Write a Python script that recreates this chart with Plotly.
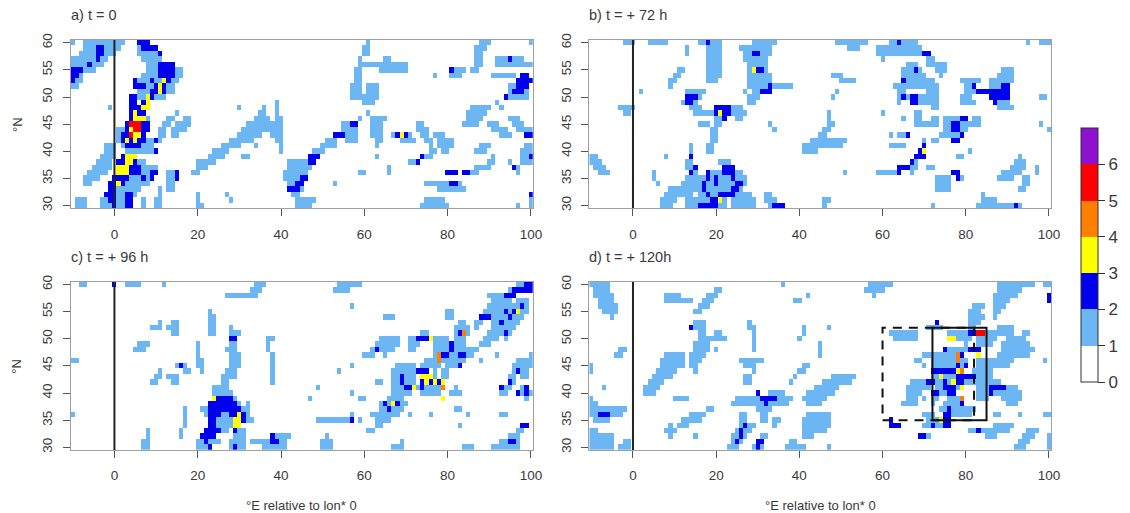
import plotly.graph_objects as go

# Cell classes per latitude row: "from:to=class" in degrees lon relative to lon*, class 1 when no "=".
# Later tokens overwrite earlier ones.
lons = list(range(-10, 101))
lats = list(range(30, 61))
tick_x = [0, 20, 40, 60, 80, 100]
tick_y = [30, 35, 40, 45, 50, 55, 60]
bar_ticks = [0, 1, 2, 3, 4, 5, 6]
titles = ["a) t = 0", "b) t = + 72 h", "c) t = + 96 h", "d) t = + 120h"]
xlabel = "°E relative to lon* 0"
ylabel = "°N"
class_colors = ["#FFFFFF", "#6DB6F4", "#0000EE", "#FFFF00", "#FF7F00", "#FF0000", "#9010D0"]
box_solid = (72, 85, 35, 52)
box_dashed = (60, 82, 35, 52)

panel_a = {
60: "-10 -7:2 6:8=2 61 88:90 100",
59: "-7:1 -4:-3=2 7:10=2 6 60:61 87:89",
58: "-8:0 -4:-3=2 6:10 11=2 60:61 87:88",
57: "-10:-2 -4=2 7:11 59 65:66 87:88 92:98 95=2",
56: "-10:-3 -6=2 8:10 11:14=2 59:70 87:88 92:100",
55: "-10:-5 -10:-8=2 8:10 11:14=2 15:16 58:59 64:70 81=2 82:84 86:87",
54: "-10:-8 -10:-9=2 7:10 11:14=2 15:16 58:59 77 81:83 91:96 98:99=2",
53: "-10:-8 -10=2 5:9 5=2 9=2 10:11 12:13=2 12=3 14:15 58:59 97:100=2",
52: "-10:-9 5:7=2 8:9 10=2 11=3 12=2 13:14 57:59 61:63 95:96 97:99=2",
51: "6:8 9:10=2 11=3 12=2 13:14 57:59 61:63 95 96:98=2 99",
50: "4:5=2 6:7 8=3 9=2 10:12 57:63 95:99 94=2",
49: "39 4:5=2 7=2 8=3 60:62 92",
48: "-1 4:6=2 7:8=3 30 36 39 86:90 93",
47: "4=2 5=3 6:7=2 15 35:36 39 61 85:89",
46: "4=2 5:7=3 8 13:14 17:18 34:37 39:40 59 62:65 85:88 95:97",
45: "3=2 4:6=5 7:8=2 12:13 15:18 32:40 55:56 57:58=2 62:64 73:74 84:87 90:92 96:98",
44: "1:2 3=2 4=3 5:6=5 7:8=2 11:12 14:17 31:40 55:58 62:64 73:75 91:94 97:100",
43: "1 2:3=2 4=5 5:6=3 7=2 11:12 14:15 30:35 38:40 53:55=2 56:58 62:64 67 68=2 69=3 70=2 71 74:75 77:79 93:95 99:100=2",
42: "1 2=2 3=3 4=2 5=3 6:7=2 8:9 10=2 11 28:33 39:40 51:53 56:58 63:64 69:72 75:76 78:81",
41: "-2:0 2 3:6=2 7:9 26:30 34 40 50:53 63 76 78:81 88:90 99:100",
40: "-2:0 3:6 7:9 10=2 24:27 40 48:50 76:77 79:80 87:89 98:100",
39: "-3:0 2=2 3:5=3 23:26 31:32 47:49=2 63 74=2 75:76 91 98:99 100=2",
38: "-4:-1 1:2=2 3:4=3 5=2 6:7 20:24 42:46 47:48=2 71:72 73=2 90:91 95 98:100",
37: "-5:-1 1:3=3 4:6=2 7:10 20:22 42:47 66 87:90 96=2 97",
36: "-6:-2 1:3=3 4:6=2 7:8 9:10=2 13:14 15=2 19:20 41:46 59:60 66 80:82=2 84:85=2 86:87 97",
35: "-7:-4 0:3=2 4:6 7=2 8 9=2 13:14 15=2 41:44 45:46=2",
34: "-7:-6 -1:0=2 1=3 2=2 3:8 13:14 42:43 44:45=2 53 75:78 79:80 81:82=2 83",
33: "-1:0=2 1:6 11 13:14 42:44=2 45 78:84",
32: "-2:0=2 1:2 3:4=2 5 11 20 27 43:44 100=2",
31: "-9:-7 -3:-2 -1:0=2 1:2 3:4=2 7 10:11 20 28 44:48 75:79 100",
30: "-9:-7 -3:-1 0=2 1:2 3:4=2 7 10:11 20:21 44:47 74:80 97 100",
}

panel_b = {
60: "-2:0 4:8 16:21 18=2 29:34 49:56 62:68 64=2 95 98:100",
59: "13 18:21 26:33 52:54 59:69",
58: "13 18:21 27:33 29:30=2 59:63 64:69 70:71=2",
57: "18:21 27:32 60 71:72",
56: "18:21 28:32 66:68 71:75",
55: "11:12 18:21 28 29=3 30:31=2 32 65:69 68=2 73:75 89:91",
54: "10:11 18:21 28:33 48:50 65:70 74 88:91",
53: "9:10 18:20 28:33 50:53 65=2 66:72 79:83 86:87 88:91",
52: "9 28:32 33=2 34:38 63:64 65:73 80:81 82=2 86:88 89:90=2",
51: "2 13:17 27 29:30 31:33=2 49 64:65 71:73 80:82 83:90=2",
50: "13:15=2 16 28:30 48 64 65=2 66 67:68=2 69:73 79:81 86:90=2 98:99",
49: "12 13:14=2 15 28:29 64 67:68=2 69:73 79:82 87=2 88:90",
48: "-3:0 14:16 20:23=2 24:26 72:73 88:91",
47: "-2:-1 15:16 17:19 20=2 21=3 22:23=2 24:27 47 60 68:69",
46: "20:21 22=2 25:26 47 65 68:69 72:73 75:78 79:80=2 82:83",
45: "16:18 20:21 33 47:48 68:73 75:76 77:78=2 79:83 98",
44: "19:20 34 46:47 75:76 77:78=2 79:80 100",
43: "19:20 45:46 62 64:65 66=2 74:76 77:78 79=2",
42: "19:20 43:51 70 72:73 77:78=2",
41: "14 18:19 41:50 62:65 70=2",
40: "14 18:19 41:44 69=2 70=3 81",
39: "-10:-9 8 14=2 68:70=2 78:79 93",
38: "-10:-8 13:14 21:23 67=2 68 92:94",
37: "-9:-7 13:14 15=2 22:24=2 64:66=2 67 68 71:72 91:94 97",
36: "-8:-6 5 14=2 15 18=2 19:21 22:24=2 25:26 51 59:63 64=2 67 77:78=2 89:93 97",
35: "5 13:17 18=2 19 20=2 21:23 24=2 25:27 73:76 78=2 79 88:91 94:95",
34: "6 12:16 17=2 18:19 20=2 21:24 25:26=2 27 73:76 94:95",
33: "9:16 17=2 18:23 24:25=2 26 73:76 93:94",
32: "8:14 16:17 18=2 19:20 21:24=2 25:28 32:33 84",
31: "7:10 13:18 19:20=2 21=3 22 24:29 32:34 46:47 84:87",
30: "7:9 13:15 16:20=2 21:22 24:29 33 34:36=2 46 72 83:91 92=2 93",
}

panel_c = {
60: "-8:-7 0=2 3:6 12 34:36 54:59 97:98 99:100=2",
59: "33:35 53:56 95 96:100=2",
58: "27:32 32:34 90:93 94:96=2",
57: "91:95 97:99",
56: "57 90:96 97 98=2 99",
55: "23 80:81 89:93 94=2 95 96=2 97=3 98:99",
54: "23:24 65:67 80:81 88:90=2 91:94 95=2 96:98",
53: "11 14:15 23:24 83:84 87:88 91:92 93=2 94:97",
52: "9:11 13:15 23:24 28 82:85 87 91:96",
51: "14:15 23:24 28:30 74:75 82 83=2 84=4 85 90:93 94=2 95",
50: "28:29=2 37:38 64:68 71:72 73:74=2 75=2 76=3 77:80 82:84 89:92 94",
49: "6:8 20 28:29 37 63:68 71:73 77:80 81=2 82:84 88:90",
48: "5:7 20 27:29 37 62:67 63=2 71:72 77:80 81=2 82:87",
47: "20 28:30 38 60:62 65 77 78=4 79:80=2 81:82 83:84=2 85:86 92 100",
46: "-10:-9 20:21 28:30 38 75:77 78=4 79:80 81:84 88 97:100",
45: "15 16=2 17 20:21 28:30 38 57 68:72 74:78 80:82 83=2 96:100",
44: "11 17:18 21 27:29 38 54 67:72 73:75=2 77 79:80 96 97=2 98:99",
43: "10:11 13:15 26:28 29 38 67:68 69=2 70:72 74:76=3 77 79:80 95:96 98:99",
42: "9:10 14:15 26:27 38 63:64 67:68 69=2 70:72 74=2 75=3 76=2 77=3 78=2 79=3 95=2 96",
41: "24:27 49 67:69 70:71=2 72=3 73 74=2 75:78 79=4 82 93=2 94:95 98 99=2",
40: "24:28 57 67:71 74:78 81:83 93:94 97=2 98 99=2 100",
39: "24=3 25:28=2 29 47 59:60 66:69 79=3 99",
38: "23:29=2 30 32 64 65=2 66 67=3 68=2 69:70",
37: "17 21:22 23:30=2 31:32 64:65 66=2 67:69 82:83",
36: "-10 17 22 23:25=2 26:27 28:29=2 30=3 31=2 32 62:68 71 76 85 93:94 57",
35: "17 23:24=2 25:28 29:30=3 31=2 32:33 49:56 57=2 59 63:66",
34: "17 23:24=2 25:28 29:30=3 63:64 83 98:99=2",
33: "8 16 22:25=2 26:27 29=2 30:31 61:62 97:98",
32: "8 16 21:24=2 29:31 38=2 39:42 51 95:97",
31: "7:8 20:21 22=2 23:25 28:31 33:37 38:39=2 40:41 50:52 69 93:94 95:96=2 97",
30: "7:8 20:22 23=2 28 29=2 30:31 36:41 50:52 67:69 84:86 91:97",
}

panel_d = {
60: "-10:-6 36 57:62 88:96 99:100",
59: "-9:-6 20:21 56:60 88:93",
58: "-9:-5 8:11 18:20 42 58 87:92 100=2",
57: "-8:-5 8:14 17:19 39:40 87:90 100=2",
56: "-8:-4 16:18 82:84 87:89",
55: "-7:-4 15:16 81:83 87:88",
54: "-5 81:84 87",
53: "15:17 28 73=2 81:83",
52: "14=2 15:17 28:29 41 47 71:74 81:82 88:91",
51: "16:17 20:21 29 41 62:68 76:80 81:82=2 83:84=5 85:91 94:95",
50: "16:22 29 40 63:68 76:77=3 78:81 83:87 90:94",
49: "15:18 29 45 80 83:86 89:95",
48: "-3:-2 15:18 20 29 45 75=2 76:80 81:83=2 89:96",
47: "-4:-3 8:12 14:17 45 70:75 76:77 78=4 79=2 83=3 88:95",
46: "7:12 14:16 26:31 68:69 72:77 78=4 79:80 83:85 86:91 99",
45: "-10 7:12 14:15 27:29 41:42 70 72:77 78=2 79 80=2 83:85 86:90",
44: "-10 6:10 15 29 40:41 72:77=2 78=3 79=4 82:86",
43: "5:9 27:28 39 48:53 72:73 74=3 75:77 78:82=2 83:86",
42: "4:7 27:28 38 46:52 67:70 71:72=2 73:74 75=2 76 77=3 78:79=2 80:82 83:85 86:88",
41: "-7 3:6 44:49 66:71 73 74 75:77=2 78 79=3 83:85 86:89=2 90:92",
40: "3:5 30=2 33:36 42:48 66:69 72:73=2 74:75 76:77=2 83:84 85 86=2 87:93",
39: "-10 10:13 25:30 31:34=2 35:38 41:46 66:68 70 72:73 76:78 79=4 83:85 89:93",
38: "-10:-9 24:31 32=2 33:35 36:37 42:45 65:68 72 75:78 79=2 90:92",
37: "-10:-2 18:19 30:33 74:82 76=2",
36: "-10:-9 -8:-6=2 -5:-3 14:17 26:27 31:32 42:47 70:72 75:76=2 77:81 87:88 93 99:100",
35: "-9:-6 12:16 26:27 31:32 34:35 41:47 62=2 71:73 74=3 75:76=2",
34: "9 11:13 26:29 27=2 34 41:47 62:64=2 70:71 72=2 73:74 75:76=2 87:91",
33: "-10:-9 8:10 25:28 26=2 41:46 81:82 83=2 84:90 95:97",
32: "-10:-5 9 15 24:27 26=2 31:32 41:43 69:70=2 71 85:87 94:96 100",
31: "-10:-5 -2:-1 24:26 25=2 30:31=2 38:39 93:95 100",
30: "-10:-5 -3:-1 23:25 29 30=2 31 37:41 47 92:94 100",
}


def to_grid(rows):
    grid = [[0.0] * len(lons) for _ in lats]
    for lat, spec in rows.items():
        for tok in spec.split():
            span, _, cls = tok.partition("=")
            if ":" in span[1:]:
                cut = span.index(":", 1)
                a, b = int(span[:cut]), int(span[cut + 1:])
            else:
                a = b = int(span)
            for lon in range(a, b + 1):
                grid[lat - 30][lon + 10] = int(cls or 1) + 0.5
    return grid


panels = [panel_a, panel_b, panel_c, panel_d]
W, H = 1130, 513
px_x = [(70.7, 533), (589.3, 1051)]
px_y = [(40, 208.3), (281.7, 450)]

fig = go.Figure()
layout = {}
shapes = []
annotations = []
font = "Liberation Sans, Arial, sans-serif"
ink = "#3a3a3a"
for i, rows in enumerate(panels):
    col, row = i % 2, i // 2
    sx = "" if i == 0 else str(i + 1)
    fig.add_trace(go.Heatmap(x=lons, y=lats, z=to_grid(rows), coloraxis="coloraxis",
                             xaxis="x" + sx, yaxis="y" + sx, hoverongaps=False))
    layout["xaxis" + sx] = dict(
        domain=[px_x[col][0] / W, px_x[col][1] / W], range=[-10.5, 100.5], anchor="y" + sx,
        tickvals=tick_x, ticks="outside", ticklen=7, tickcolor="#555", showgrid=False, zeroline=False,
        showline=True, mirror=True, linecolor="#a0a0a0", linewidth=1, ticklabelstandoff=6,
        tickfont=dict(family=font, size=13.5, color=ink))
    layout["yaxis" + sx] = dict(
        domain=[1 - px_y[row][1] / H, 1 - px_y[row][0] / H], range=[29.5, 60.5], anchor="x" + sx,
        tickvals=tick_y, ticks="outside", ticklen=7, tickcolor="#555", showgrid=False, zeroline=False,
        showline=True, mirror=True, linecolor="#a0a0a0", linewidth=1, tickangle=-90, ticklabelstandoff=5,
        tickfont=dict(family=font, size=13.5, color=ink))
    shapes.append(dict(type="line", xref="x" + sx, yref="y" + sx, x0=0, x1=0, y0=29.5, y1=60.5,
                       line=dict(color="#222222", width=2)))
    annotations.append(dict(text=titles[i], xref="paper", yref="paper", showarrow=False,
                            x=(px_x[col][0] - 2) / W, y=1 - (px_y[row][0] - 25) / H, xanchor="left", yanchor="middle",
                            font=dict(family=font, size=14.5, color=ink)))
    if col == 0:
        annotations.append(dict(text=ylabel, xref="paper", yref="paper", showarrow=False, textangle=-90,
                                x=17 / W, y=1 - (px_y[row][0] + 85) / H, xanchor="center", yanchor="middle",
                                font=dict(family=font, size=13, color=ink)))
    if row == 1:
        annotations.append(dict(text=xlabel, xref="paper", yref="paper", showarrow=False,
                                x=(301.5 + col * 518.5) / W, y=1 - 505 / H, xanchor="center", yanchor="middle",
                                font=dict(family=font, size=13, color=ink)))

x0, x1, y0, y1 = box_solid
shapes.append(dict(type="rect", xref="x4", yref="y4", x0=x0, x1=x1, y0=y0, y1=y1,
                   line=dict(color="#111111", width=2)))
x0, x1, y0, y1 = box_dashed
shapes.append(dict(type="rect", xref="x4", yref="y4", x0=x0, x1=x1, y0=y0, y1=y1,
                   line=dict(color="#111111", width=2, dash="9px,7px")))

n = len(class_colors)
scale = []
for k, c in enumerate(class_colors):
    scale += [[k / n, c], [(k + 1) / n, c]]

fig.update_layout(
    width=W, height=H, margin=dict(l=0, r=0, t=0, b=0, autoexpand=False), paper_bgcolor="white", plot_bgcolor="white",
    showlegend=False, shapes=shapes, annotations=annotations,
    coloraxis=dict(cmin=0, cmax=n, colorscale=scale, colorbar=dict(
        x=1081 / W, xanchor="left", xpad=0, y=(H - 382) / H, yanchor="bottom", ypad=0,
        thickness=17, thicknessmode="pixels", len=254, lenmode="pixels",
        tickvals=bar_ticks, ticks="outside", ticklen=7, tickcolor="#333",
        outlinecolor="#333", outlinewidth=1,
        tickfont=dict(family=font, size=17, color=ink))),
    **layout)

fig.write_html("out.html", config={"displayModeBar": False},
               post_script="document.body.style.margin='0';document.body.style.overflow='hidden';")
